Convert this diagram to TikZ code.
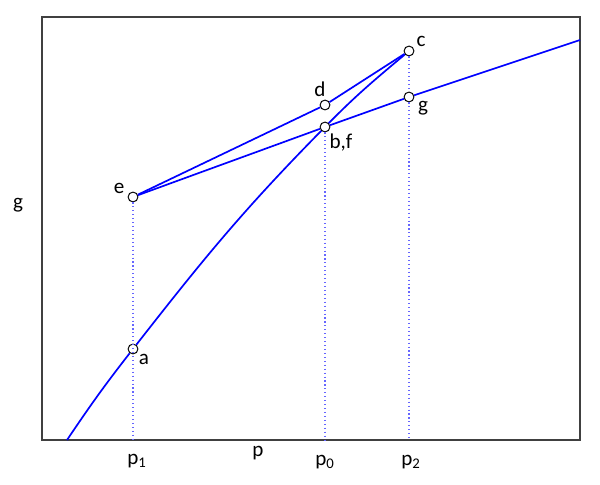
\documentclass[tikz,border=0pt]{standalone}
\usepackage{fontspec}
\setmainfont{Carlito}
\usetikzlibrary{positioning}

\begin{document}
\begin{tikzpicture}[
    x=0.025cm, y=-0.025cm,
    every node/.style={font=\fontsize{15}{18}\selectfont},
    pt/.style={circle, draw=black, fill=white, line width=0.7pt, minimum size=7pt, inner sep=0pt},
    curve/.style={blue, line width=1.2pt},
    drop/.style={blue!60, dotted, line width=0.8pt},
    frame/.style={draw=black!75, line width=1pt}
]
\useasboundingbox (0,0) rectangle (600,485);
\draw[frame] (42,17) rectangle (580,440);

% points on the curves
\node[pt] (e) at (133,197) {};
\node[pt] (a) at (133,349) {};
\node[pt] (b) at (325,127) {};
\node[pt] (d) at (325,105) {};
\node[pt] (c) at (409,51) {};
\node[pt] (g) at (409,97) {};
\coordinate (lo) at (67,440);
\coordinate (hi) at (580,40);
\coordinate (p1) at (133,440);
\coordinate (p0) at (325,440);
\coordinate (p2) at (409,440);

% dotted drops to the axis
\draw[drop] (e) -- (p1);
\draw[drop] (b) -- (p0);
\draw[drop] (c) -- (g);
\draw[drop] (g) -- (p2);

% curves
\draw[curve] (lo) to[out=56,in=232] (a) to[out=52,in=225.5] (b) to[out=45.5,in=220] (c);
\draw[curve] (e) -- (b) -- (g) -- (hi);
\draw[curve] (e) -- (d) -- (c);

% labels
\node at (119,188) {e};
\node at (320,89) {d};
\node at (421,41) {c};
\node at (423,108) {g};
\node at (341,143) {b,f};
\node at (144,359) {a};
\node at (18,205) {g};
\node at (137,461) {p\textsubscript{1}};
\node at (258,453) {p};
\node at (325,462) {p\textsubscript{0}};
\node at (411,462) {p\textsubscript{2}};
\end{tikzpicture}
\end{document}
